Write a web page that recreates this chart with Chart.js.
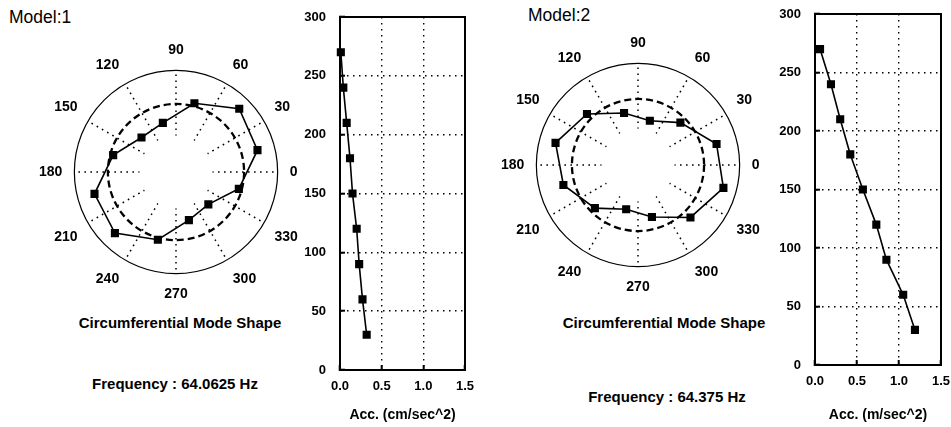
<!DOCTYPE html>
<html>
<head>
<meta charset="utf-8">
<script src="https://cdn.jsdelivr.net/npm/chart.js@4.4.1/dist/chart.umd.min.js"></script>
<style>
  body { margin: 0; background: #fff; }
  #page { position: relative; width: 951px; height: 427px; overflow: hidden; font-family: "Liberation Sans", Arial, sans-serif; color: #000; }
  canvas { position: absolute; }
  .model { position: absolute; font-size: 17.5px; transform: translateY(-50%); white-space: nowrap; }
  .cap { position: absolute; font-size: 15px; font-weight: bold; transform: translate(-50%, -50%); white-space: nowrap; }
</style>
</head>
<body>
<div id="page">
  <div class="model" style="left:9px; top:17px;">Model:1</div>
  <div class="model" style="left:528px; top:15px;">Model:2</div>

  <canvas id="polar1" width="274" height="274" style="left:32px; top:36px;"></canvas>
  <canvas id="acc1" width="175" height="427" style="left:300px; top:0;"></canvas>
  <canvas id="polar2" width="274" height="274" style="left:494px; top:29px;"></canvas>
  <canvas id="acc2" width="176" height="427" style="left:775px; top:0;"></canvas>

  <div class="cap" style="left:180px; top:322px;">Circumferential Mode Shape</div>
  <div class="cap" style="left:175px; top:383px;">Frequency : 64.0625 Hz</div>
  <div class="cap" style="left:664px; top:322px;">Circumferential Mode Shape</div>
  <div class="cap" style="left:667px; top:396px;">Frequency : 64.375 Hz</div>
</div>
<script>
    // polar mode shapes (radius as fraction of outer circle)
    const angleTicks = [0, 30, 60, 90, 120, 150, 180, 210, 240, 270, 300, 330];
    const shapeAngles = [15, 45, 75, 105, 135, 165, 195, 225, 255, 285, 315, 345];
    const shape1 = [0.83, 0.88, 0.70, 0.50, 0.48, 0.64, 0.83, 0.85, 0.69, 0.49, 0.45, 0.64];
    const shape2 = [0.80, 0.59, 0.45, 0.53, 0.71, 0.84, 0.76, 0.60, 0.45, 0.53, 0.73, 0.87];
    const refRadius1 = 0.67;
    const refRadius2 = 0.65;

    // acceleration along the height
    const heights = [270, 240, 210, 180, 150, 120, 90, 60, 30];
    const acc1 = [0.01, 0.04, 0.08, 0.12, 0.15, 0.20, 0.23, 0.27, 0.32];
    const acc2 = [0.06, 0.19, 0.30, 0.42, 0.57, 0.73, 0.85, 1.05, 1.19];
    const heightTicks = [0, 50, 100, 150, 200, 250, 300];
    const accTicks = [0, 0.5, 1.0, 1.5];

    Chart.defaults.font.family = "'Liberation Sans', Arial, sans-serif";
    Chart.defaults.color = "#000";

    // 24 slots, 15 deg apart, going clockwise from the right (0 deg)
    const slots = Array.from({ length: 24 }, (_, i) => (360 - 15 * i) % 360);

    // blank the middle of the spokes
    const hubPlugin = {
      id: "hub",
      beforeDatasetsDraw(chart) {
        const r = chart.scales.r;
        const ctx = chart.ctx;
        ctx.save();
        ctx.fillStyle = "#fff";
        ctx.beginPath();
        ctx.arc(r.xCenter, r.yCenter, r.drawingArea * 0.36, 0, Math.PI * 2);
        ctx.fill();
        ctx.restore();
      }
    };

    function createPolar(id, shape, refRadius) {
      return new Chart(document.getElementById(id), {
        type: "radar",
        data: {
          labels: slots.map(a => angleTicks.includes(a) ? String(a) : ""),
          datasets: [{
            data: slots.map(a => {
              const k = shapeAngles.indexOf(a);
              return k < 0 ? null : shape[k];
            }),
            spanGaps: true,
            fill: false,
            tension: 0,
            borderColor: "#000",
            borderWidth: 1.6,
            pointStyle: "rect",
            pointRadius: 4.6,
            pointBackgroundColor: "#000",
            pointBorderColor: "#000"
          }]
        },
        options: {
          responsive: false,
          animation: false,
          events: [],
          plugins: { legend: { display: false }, tooltip: { enabled: false } },
          scales: {
            r: {
              min: 0,
              max: 1,
              startAngle: 90,
              ticks: { display: false },
              afterBuildTicks: s => { s.ticks = [0, refRadius, 1].map(v => ({ value: v })); },
              grid: {
                circular: true,
                color: "#000",
                lineWidth: c => (c.tick && c.tick.value < 1) ? 2.3 : 1.2
              },
              border: { dash: c => (c.tick && c.tick.value < 1) ? [7, 4] : [] },
              angleLines: {
                color: "#000",
                lineWidth: c => c.label === "" ? 0 : 1.5,
                borderDash: [1.6, 4.4]
              },
              pointLabels: {
                font: { size: 14, weight: "bold" },
                color: "#000",
                padding: 12
              }
            }
          }
        },
        plugins: [hubPlugin]
      });
    }

    const boxPlugin = {
      id: "box",
      beforeDatasetsDraw(chart) {
        const { ctx, chartArea: a } = chart;
        ctx.save();
        ctx.strokeStyle = "#000";
        ctx.lineWidth = 2;
        ctx.strokeRect(a.left, a.top, a.right - a.left, a.bottom - a.top);
        ctx.restore();
      }
    };

    function createAcc(id, acc, unit, top, bottom) {
      const tickFont = { size: 13, weight: "bold" };
      return new Chart(document.getElementById(id), {
        type: "scatter",
        data: {
          datasets: [{
            data: heights.map((h, i) => ({ x: acc[i], y: h })),
            showLine: true,
            clip: false,
            borderColor: "#000",
            borderWidth: 1.6,
            backgroundColor: "#000",
            pointStyle: "rect",
            pointRadius: 4.6
          }]
        },
        options: {
          responsive: false,
          animation: false,
          events: [],
          layout: { padding: { top: top, right: 10 } },
          plugins: { legend: { display: false }, tooltip: { enabled: false } },
          scales: {
            x: {
              type: "linear",
              min: 0,
              max: 1.5,
              afterBuildTicks: s => { s.ticks = accTicks.map(v => ({ value: v })); },
              afterFit: s => { s.height = 427 - bottom; s.paddingLeft = 0; s.paddingRight = 0; },
              ticks: { callback: v => Number(v).toFixed(1), padding: 14, maxRotation: 0, font: tickFont, color: "#000" },
              grid: {
                color: c => (c.tick && (c.tick.value === 0 || c.tick.value === 1.5)) ? "transparent" : "#000",
                lineWidth: 1.4,
                tickLength: -5,
                tickColor: "#000",
                tickWidth: 2
              },
              border: { color: "#000", width: 2, dash: [1.5, 4.5] },
              title: { display: true, text: unit, font: { size: 14, weight: "bold" }, color: "#000", padding: { top: 0, bottom: 3 } }
            },
            y: {
              min: 0,
              max: 300,
              afterBuildTicks: s => { s.ticks = heightTicks.map(v => ({ value: v })); },
              afterFit: s => { s.width = 40; s.paddingTop = 0; s.paddingBottom = 0; },
              ticks: { padding: 19, font: tickFont, color: "#000" },
              grid: {
                color: c => (c.tick && (c.tick.value === 0 || c.tick.value === 300)) ? "transparent" : "#000",
                lineWidth: 1.4,
                tickLength: -5,
                tickColor: "#000",
                tickWidth: 2
              },
              border: { color: "#000", width: 2, dash: [1.5, 4.5] }
            }
          }
        },
        plugins: [boxPlugin]
      });
    }

    createPolar("polar1", shape1, refRadius1);
    createPolar("polar2", shape2, refRadius2);
    createAcc("acc1", acc1, "Acc. (cm/sec^2)", 17, 370);
    createAcc("acc2", acc2, "Acc. (m/sec^2)", 14, 365);
</script>
</body>
</html>
